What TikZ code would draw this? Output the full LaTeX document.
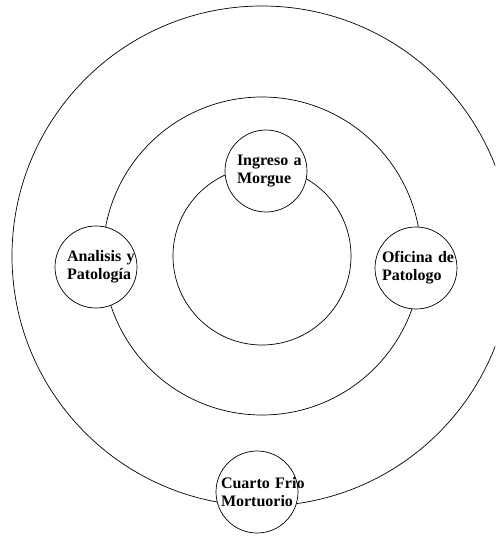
\documentclass[tikz,border=0pt]{standalone}
\usepackage{fontspec}
\setmainfont{Liberation Serif}
\usepackage{tikz}

\begin{document}
\begin{tikzpicture}[x=1pt, y=-1pt, line width=0.7pt, station/.style={circle, draw, fill=white, minimum size=82pt, inner sep=0pt, text width=58pt, align=left, font=\fontsize{16}{18}\selectfont\bfseries}]
  \clip (0,0) rectangle (495,537);
  \coordinate (centro) at (262,256);
  \draw (centro) circle (250pt);
  \draw (centro) circle (159pt);
  \draw (centro) circle (89pt);
  \node[station] (ingreso) at (266,171) {\mbox{Ingreso a}\\Morgue};
  \node[station] (analisis) at (96,267) {\mbox{Analisis y}\\Patología};
  \node[station, text width=68pt] (oficina) at (416,268) {\mbox{Oficina de}\\Patologo};
  \node[station, text width=72pt] (cuarto) at (257,492) {\mbox{Cuarto Frio}\\Mortuorio};
\end{tikzpicture}
\end{document}
